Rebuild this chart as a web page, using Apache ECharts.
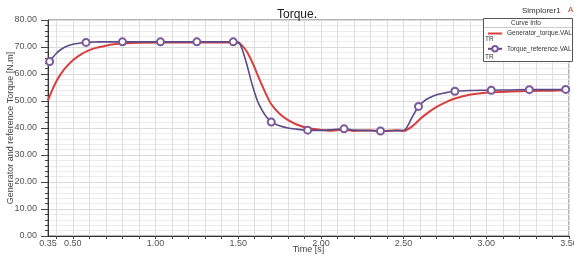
<!DOCTYPE html>
<html>
<head>
<meta charset="utf-8">
<script src="https://cdn.jsdelivr.net/npm/echarts@6/dist/echarts.min.js"></script>
<style>
  html, body { margin: 0; padding: 0; background: #fff; }
  #chart { width: 574px; height: 259px; }
</style>
</head>
<body>
<div id="chart"></div>
<script>
// time samples [s] shared by both curves
var times = [0.35, 0.36, 0.38, 0.40, 0.42, 0.45, 0.50, 0.55, 0.58, 0.62,
  0.65, 0.70, 0.75, 0.80, 0.90, 1.03, 1.25, 1.47, 1.50, 1.52,
  1.55, 1.58, 1.60, 1.62, 1.65, 1.67, 1.70, 1.75, 1.80, 1.85,
  1.92, 2.00, 2.05, 2.14, 2.20, 2.30, 2.36, 2.45, 2.50, 2.52,
  2.55, 2.57, 2.59, 2.62, 2.65, 2.70, 2.75, 2.81, 2.90, 3.03,
  3.15, 3.26, 3.40, 3.48, 3.50];

var generatorTorque = [50.2, 51.8, 54.7, 57.2, 59.3, 61.9, 65.1, 67.3, 68.3, 69.3,
  69.8, 70.5, 71.0, 71.3, 71.6, 71.7, 71.7, 71.7, 71.6, 70.8,
  68.5, 65.0, 62.3, 59.2, 55.0, 52.3, 48.8, 45.3, 43.0, 41.4,
  40.0, 39.3, 39.0, 39.4, 38.9, 39.2, 38.8, 39.2, 38.9, 39.3,
  40.5, 41.6, 42.8, 44.4, 45.8, 47.8, 49.4, 50.9, 52.3, 53.2,
  53.5, 53.7, 53.8, 53.9, 53.9];

var torqueReference = [63.8, 64.6, 66.2, 67.6, 68.7, 69.9, 71.0, 71.5, 71.7, 71.8,
  71.9, 71.9, 71.9, 71.9, 71.9, 71.9, 71.9, 71.9, 71.8, 69.8,
  64.0, 57.0, 53.0, 49.5, 46.0, 44.2, 42.2, 40.8, 40.0, 39.6,
  39.2, 39.1, 39.3, 39.7, 39.2, 39.0, 38.9, 39.0, 39.1, 40.3,
  43.8, 46.0, 48.0, 49.8, 51.0, 52.3, 53.0, 53.6, 53.9, 54.0,
  54.1, 54.2, 54.2, 54.3, 54.3];

// circles drawn on the reference curve
var markerTimes = [0.36, 0.58, 0.80, 1.03, 1.25, 1.47, 1.70, 1.92, 2.14, 2.36, 2.59, 2.81, 3.03, 3.26, 3.48];

var xLabelValues = [0.35, 0.5, 1.0, 1.5, 2.0, 2.5, 3.0, 3.5];
var xTickValues = [0.4, 0.5, 0.6, 0.7, 0.8, 0.9, 1.0, 1.1, 1.2, 1.3, 1.4, 1.5, 1.6, 1.7, 1.8, 1.9,
  2.0, 2.1, 2.2, 2.3, 2.4, 2.5, 2.6, 2.7, 2.8, 2.9, 3.0, 3.1, 3.2, 3.3, 3.4, 3.5];

var legendNames = ['Generator_torque.VAL', 'Torque_reference.VAL'];

var genData = times.map(function (t, i) { return [t, generatorTorque[i]]; });
var refData = times.map(function (t, i) {
  if (markerTimes.indexOf(t) >= 0) return { value: [t, torqueReference[i]] };
  return { value: [t, torqueReference[i]], symbol: 'none' };
});

var chart = echarts.init(document.getElementById('chart'));
var font = 'Liberation Sans';

var option = {
  animation: false,
  title: {
    text: 'Torque.',
    left: 292,
    top: 4,
    textAlign: 'center',
    textStyle: { fontSize: 12, fontWeight: 'normal', color: '#222', fontFamily: font }
  },
  legend: {
    data: [
      { name: legendNames[0], itemStyle: { opacity: 0 } },
      { name: legendNames[1] }
    ],
    orient: 'vertical',
    left: 487,
    top: 30,
    padding: 0,
    itemWidth: 14,
    itemHeight: 7,
    itemGap: 8,
    z: 10,
    textStyle: { fontSize: 6.5, color: '#333', fontFamily: font },
    selectedMode: false
  },
  graphic: [
    { type: 'text', left: 522, top: 7, z: 12, style: { text: 'Simplorer1', fontSize: 8, fill: '#333', fontFamily: font } },
    { type: 'text', left: 568, top: 6, z: 12, style: { text: 'A', fontSize: 8, fill: '#d03030', fontFamily: font } },
    { type: 'rect', z: 5, shape: { x: 483.5, y: 18.5, width: 89, height: 43 }, style: { fill: '#fff', stroke: '#555', lineWidth: 1 } },
    { type: 'line', z: 6, shape: { x1: 484, y1: 27.5, x2: 572, y2: 27.5 }, style: { stroke: '#ccc', lineWidth: 1 } },
    { type: 'text', left: 511, top: 19.5, z: 12, style: { text: 'Curve Info', fontSize: 6.5, fill: '#333', fontFamily: font } },
    { type: 'text', left: 485, top: 36, z: 12, style: { text: 'TR', fontSize: 6.5, fill: '#333', fontFamily: font } },
    { type: 'text', left: 485, top: 53.5, z: 12, style: { text: 'TR', fontSize: 6.5, fill: '#333', fontFamily: font } }
  ],
  grid: {
    left: 48,
    right: 5,
    top: 20,
    bottom: 23,
    outerBoundsMode: 'none',
    containLabel: false,
    show: true,
    borderColor: '#666',
    borderWidth: 1
  },
  xAxis: {
    type: 'value',
    min: 0.35,
    max: 3.5,
    name: 'Time [s]',
    nameLocation: 'middle',
    nameGap: 9,
    nameMoveOverlap: false,
    nameTextStyle: { fontSize: 9, color: '#444', fontFamily: font },
    axisLine: { lineStyle: { color: '#333', width: 1 } },
    axisTick: { show: true, length: 3, inside: false, customValues: xTickValues, lineStyle: { color: '#444' } },
    axisLabel: {
      customValues: xLabelValues,
      fontSize: 9,
      color: '#555',
      margin: 3,
      fontFamily: font,
      formatter: function (v) { return v.toFixed(2); }
    },
    splitLine: { show: true, lineStyle: { color: '#dedede', width: 1 } }
  },
  yAxis: {
    type: 'value',
    min: 0,
    max: 80,
    interval: 10,
    name: 'Generator and reference Torque [N.m]',
    nameLocation: 'middle',
    nameGap: 33,
    nameMoveOverlap: false,
    nameTextStyle: { fontSize: 9, color: '#444', fontFamily: font },
    axisLine: { show: true, lineStyle: { color: '#333', width: 1 } },
    axisTick: { show: true, length: 7, lineStyle: { color: '#444' } },
    minorTick: { show: true, splitNumber: 5, length: 3, lineStyle: { color: '#444' } },
    axisLabel: {
      fontSize: 9,
      color: '#555',
      margin: 11,
      fontFamily: font,
      formatter: function (v) { return v.toFixed(2); }
    },
    splitLine: { show: true, lineStyle: { color: '#dadada', width: 1 } },
    minorSplitLine: { show: true, lineStyle: { color: '#ececec', width: 1 } }
  },
  series: [
    {
      name: legendNames[0],
      type: 'line',
      data: genData,
      smooth: 0.3,
      symbol: 'none',
      color: '#d8403f',
      lineStyle: { color: '#d8403f', width: 2 },
      z: 2
    },
    {
      name: legendNames[1],
      type: 'line',
      data: refData,
      smooth: 0.3,
      symbol: 'emptyCircle',
      symbolSize: 7,
      color: '#6a4f8f',
      itemStyle: { color: '#7a5a9a', borderColor: '#7a5a9a', borderWidth: 1 },
      lineStyle: { color: '#5a4a85', width: 1.6 },
      z: 3
    }
  ]
};

chart.setOption(option);
</script>
</body>
</html>
